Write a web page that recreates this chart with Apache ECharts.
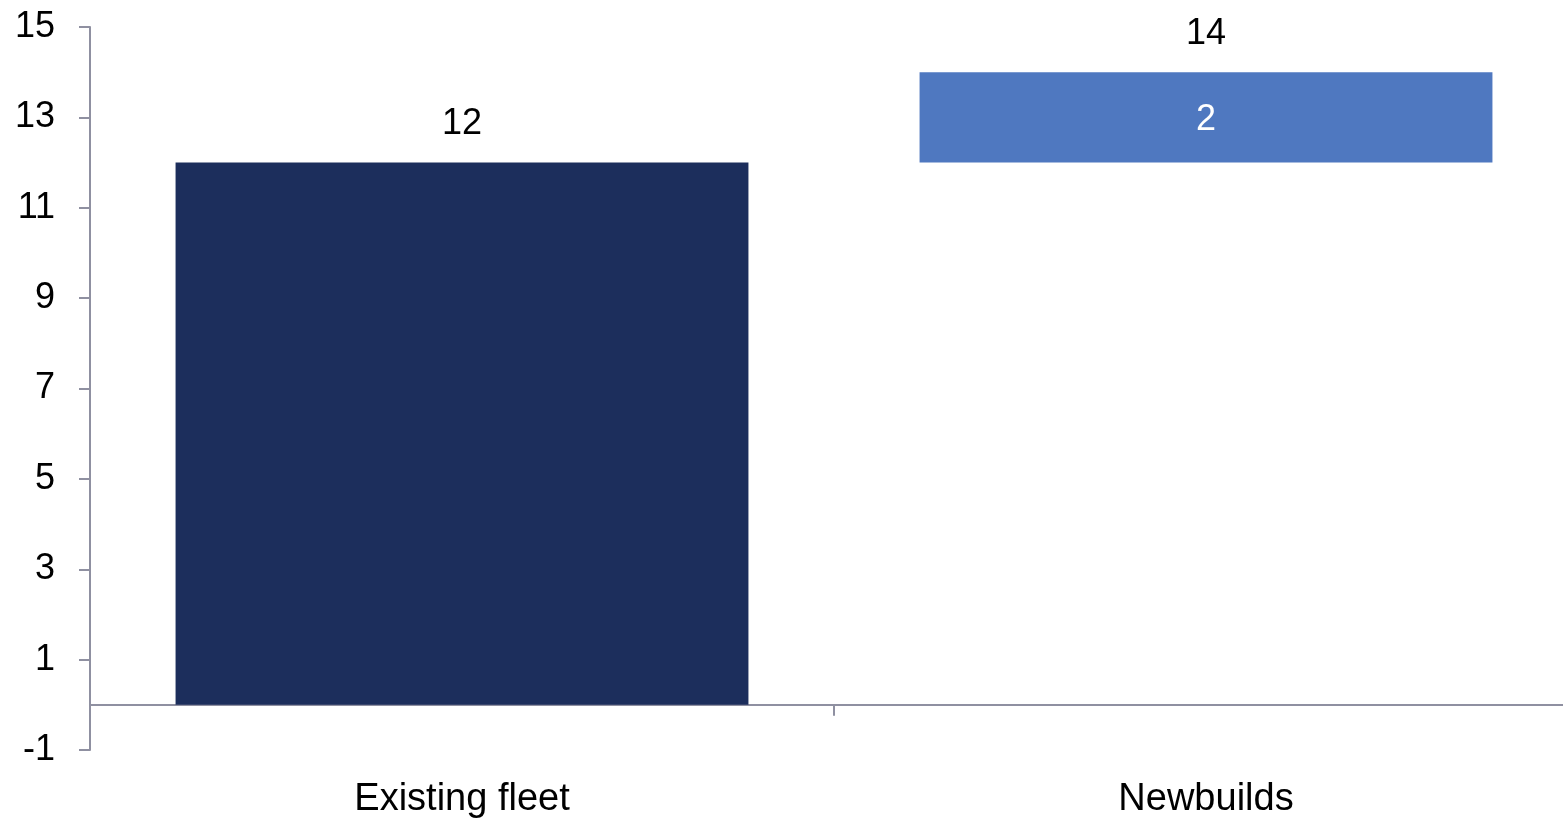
<!DOCTYPE html>
<html>
<head>
<meta charset="utf-8">
<script src="https://cdn.jsdelivr.net/npm/echarts@6/dist/echarts.min.js"></script>
<style>html,body{margin:0;padding:0;background:#fff}#c{width:1563px;height:819px}</style>
</head>
<body>
<div id="c"></div>
<script>
var categories = ['Existing fleet', 'Newbuilds'];
var existing = [12, '-'];
var base = ['-', 12];
var increase = ['-', 2];
var totals = [12, 14];
var yTicks = { min: -1, max: 15, interval: 2 };

var font = 'Liberation Sans, Arial, sans-serif';
var axisGrey = '#8F90A1';
var chart = echarts.init(document.getElementById('c'));
chart.setOption({
  animation: false,
  grid: { left: 90, top: 27, bottom: 69, width: 1488, containLabel: false, outerBoundsMode: 'none' },
  xAxis: [{
    type: 'category',
    data: categories,
    axisLine: { onZero: true, lineStyle: { color: axisGrey, width: 2 } },
    axisTick: { show: true, length: 11, lineStyle: { color: axisGrey, width: 2 } },
    axisLabel: { show: false }
  }, {
    type: 'category',
    data: categories,
    position: 'bottom',
    axisLine: { show: false, onZero: false },
    axisTick: { show: false },
    axisLabel: { show: true, margin: 31, color: '#000', fontSize: 38, fontFamily: font, hideOverlap: false }
  }],
  yAxis: {
    type: 'value',
    min: yTicks.min, max: yTicks.max, interval: yTicks.interval,
    splitLine: { show: false },
    axisLine: { show: true, lineStyle: { color: axisGrey, width: 2 } },
    axisTick: { show: true, length: 11, lineStyle: { color: axisGrey, width: 2 } },
    axisLabel: { margin: 35, color: '#000', fontSize: 36, fontFamily: font }
  },
  series: [
    { type: 'bar', stack: 's', barWidth: '77%', data: existing, itemStyle: { color: '#1C2E5C' } },
    { type: 'bar', stack: 's', data: base, itemStyle: { color: 'rgba(0,0,0,0)' } },
    { type: 'bar', stack: 's', data: increase, itemStyle: { color: '#4F78C0' },
      label: { show: true, position: 'inside', offset: [0, 3], color: '#fff', fontSize: 36, fontFamily: font } },
    { type: 'bar', stack: 's', data: totals.map(function(){return 0;}), itemStyle: { color: 'rgba(0,0,0,0)' },
      label: { show: true, position: 'top', distance: 20, color: '#000', fontSize: 36, fontFamily: font,
        formatter: function(p){ return totals[p.dataIndex]; } } }
  ]
});
</script>
</body>
</html>
